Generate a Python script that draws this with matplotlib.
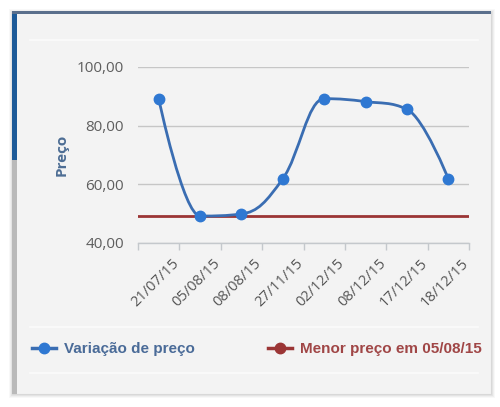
import numpy as np
import matplotlib
matplotlib.use('Agg')
import matplotlib.pyplot as plt
from matplotlib.path import Path
from matplotlib.patches import PathPatch, Rectangle
from matplotlib.lines import Line2D
from matplotlib.transforms import ScaledTranslation

# dados
datas = ['21/07/15', '05/08/15', '08/08/15', '27/11/15',
         '02/12/15', '08/12/15', '17/12/15', '18/12/15']
precos = [89.2, 49.2, 49.9, 61.9, 89.2, 88.2, 85.6, 61.9]
menor_preco = 49.2
yticks = [40, 60, 80, 100]
rotulo_serie = 'Variação de preço'
rotulo_menor = 'Menor preço em 05/08/15'

W, H = 500, 407
AZUL = '#3a6db2'
AZUL_PONTO = '#2f78d2'
VERMELHO = '#9b3535'


def fx(x):
    return x / W


def fy(y):
    return 1 - y / H


def spline_path(xs, ys, smoothing=1.5):
    # curva suave no estilo do highcharts (bezier entre os pontos)
    n = len(xs)
    left = [None] * n
    right = [None] * n
    d = smoothing + 1
    for i in range(n):
        x, y = xs[i], ys[i]
        if 0 < i < n - 1:
            lx, ly = xs[i - 1], ys[i - 1]
            nx, ny = xs[i + 1], ys[i + 1]
            lcx = (smoothing * x + lx) / d
            lcy = (smoothing * y + ly) / d
            rcx = (smoothing * x + nx) / d
            rcy = (smoothing * y + ny) / d
            corr = (rcy - lcy) * (rcx - x) / (rcx - lcx) + y - rcy
            lcy += corr
            rcy += corr
            if lcy > ly and lcy > y:
                lcy = max(ly, y); rcy = 2 * y - lcy
            elif lcy < ly and lcy < y:
                lcy = min(ly, y); rcy = 2 * y - lcy
            if rcy > ny and rcy > y:
                rcy = max(ny, y); lcy = 2 * y - rcy
            elif rcy < ny and rcy < y:
                rcy = min(ny, y); lcy = 2 * y - rcy
            left[i] = (lcx, lcy)
            right[i] = (rcx, rcy)
        else:
            left[i] = (x, y)
            right[i] = (x, y)
    verts = [(xs[0], ys[0])]
    codes = [Path.MOVETO]
    for i in range(1, n):
        verts += [right[i - 1], left[i], (xs[i], ys[i])]
        codes += [Path.CURVE4] * 3
    return Path(verts, codes)


def caixa(x0, y0, x1, y1, **kw):
    r = Rectangle((fx(x0), fy(y1)), fx(x1) - fx(x0), fy(y0) - fy(y1),
                  transform=fig.transFigure, **kw)
    fig.add_artist(r)
    return r


fig = plt.figure(figsize=(W / 100, H / 100), dpi=100)
fig.patch.set_facecolor('white')

# sombra e painel
for k, a in enumerate([0.05, 0.07, 0.09]):
    caixa(12 - 3 + k, 12 - 3 + k, 492 + 3 - k, 395 + 3 - k,
          facecolor='#808080', alpha=a, edgecolor='none', zorder=-10)
caixa(12, 12, 491, 394, facecolor='#f3f3f3', edgecolor='#d8d8d8', lw=0.8, zorder=-9)
caixa(12, 12, 17, 160, facecolor='#1d5a98', edgecolor='none', zorder=-8)
caixa(12, 160, 17, 394, facecolor='#b9b9b9', edgecolor='none', zorder=-8)
caixa(12, 11, 491, 13.5, facecolor='#5a6f8c', edgecolor='none', zorder=-8)
for yy in [40, 327, 373]:
    fig.add_artist(Line2D([fx(30), fx(478)], [fy(yy), fy(yy)],
                          transform=fig.transFigure, color='#fbfbfb', lw=1.2, zorder=-7))

ax = fig.add_axes([fx(138), fy(243), fx(469) - fx(138), fy(67) - fy(243)])
ax.set_facecolor('none')
x = np.arange(len(datas))

ax.axhline(menor_preco, color=VERMELHO, lw=2, zorder=2)
ax.add_patch(PathPatch(spline_path(x, precos), facecolor='none',
                       edgecolor=AZUL, lw=2, zorder=3, capstyle='round'))
ax.plot(x, precos, 'o', color=AZUL_PONTO, ms=7.5, mec=AZUL_PONTO, zorder=4)

ax.set_xlim(-0.5, len(datas) - 0.5)
ax.set_ylim(40, 100)

for s in ['top', 'right', 'left']:
    ax.spines[s].set_visible(False)
ax.spines['bottom'].set_color('#c4c8cc')
ax.spines['bottom'].set_linewidth(1)

ax.set_yticks(yticks)
ax.set_yticklabels([f'{v:.2f}'.replace('.', ',') for v in yticks],
                   fontsize=11, color='#5e5e5e', family='Open Sans')
ax.tick_params(axis='y', length=0, pad=10)
ax.grid(axis='y', color='#c6c6c6', lw=1)
ax.set_axisbelow(True)

ax.set_xticks(x)
ax.set_xticklabels(datas, rotation=45, ha='right', va='center',
                   rotation_mode='anchor', fontsize=10.5, color='#555555',
                   family='Open Sans')
ax.tick_params(axis='x', which='major', length=0, pad=13)
ax.set_xticks(np.arange(-0.5, len(datas), 1), minor=True)
ax.tick_params(axis='x', which='minor', length=5, color='#c4c8cc', width=1)
desloc = ScaledTranslation(18 / 100, 0, fig.dpi_scale_trans)
for lb in ax.xaxis.get_majorticklabels():
    lb.set_transform(lb.get_transform() + desloc)

fig.text(fx(62), fy(155), 'Preço', rotation=90, ha='center', va='center',
         fontsize=11, fontweight='bold', color='#4d6d94', family='Open Sans')

# legendas
h1 = Line2D([], [], color=AZUL, lw=2.5, marker='o', ms=7.5, mfc=AZUL_PONTO, mec=AZUL_PONTO)
h2 = Line2D([], [], color=VERMELHO, lw=2.5, marker='o', ms=7.5)
leg_kw = dict(frameon=False, borderpad=0, borderaxespad=0, handlelength=1.55,
              handletextpad=0.55, loc='center left',
              prop={'family': 'Liberation Sans', 'weight': 'bold', 'size': 11})
l1 = fig.legend([h1], [rotulo_serie], bbox_to_anchor=(fx(32), fy(349)), **leg_kw)
l1.get_texts()[0].set_color('#4a6b98')
l2 = fig.legend([h2], [rotulo_menor], bbox_to_anchor=(fx(268), fy(349)), **leg_kw)
l2.get_texts()[0].set_color('#a04646')

fig.savefig('out.png', dpi=100)
